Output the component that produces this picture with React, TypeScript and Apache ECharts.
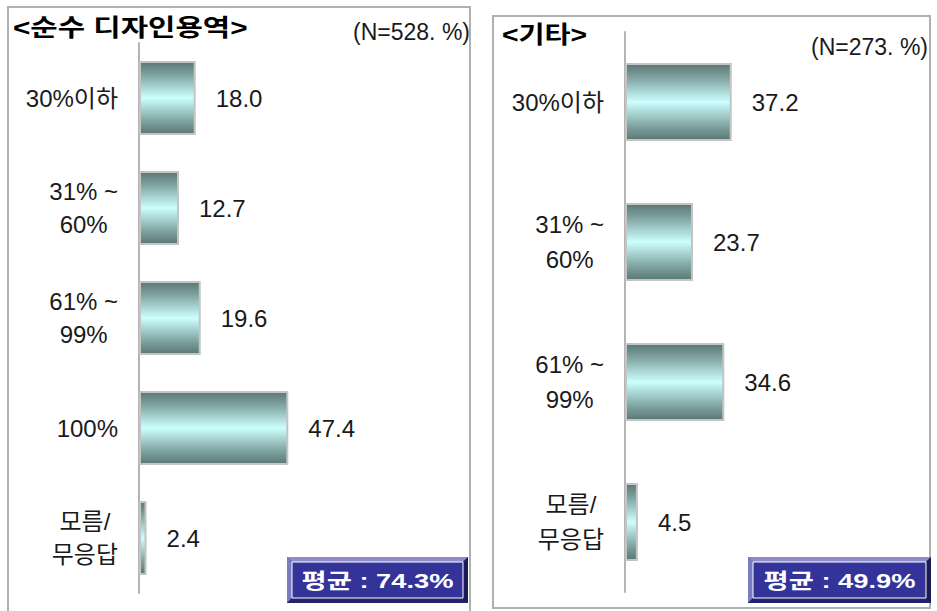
import React, { useEffect, useRef } from "react";
import * as echarts from "echarts";

const leftTitle = "<순수 디자인용역>";
const leftNote = "(N=528. %)";
const leftCategories = ["30%이하", "31% ~\n60%", "61% ~\n99%", "100%", "모름/\n무응답"];
const leftValues = [18.0, 12.7, 19.6, 47.4, 2.4];
const leftAverage = "평균 : 74.3%";

const rightTitle = "<기타>";
const rightNote = "(N=273. %)";
const rightCategories = ["30%이하", "31% ~\n60%", "61% ~\n99%", "모름/\n무응답"];
const rightValues = [37.2, 23.7, 34.6, 4.5];
const rightAverage = "평균 : 49.9%";

const FONT = "'Liberation Sans', 'Noto Sans CJK KR', sans-serif";

const barGradient = new echarts.graphic.LinearGradient(0, 0, 0, 1, [
  { offset: 0, color: "#5a7875" },
  { offset: 0.18, color: "#7fa3a0" },
  { offset: 0.5, color: "#ccffff" },
  { offset: 0.82, color: "#7fa3a0" },
  { offset: 1, color: "#5a7875" },
]);

function avgBox(x0: number, y0: number, x1: number, y1: number, text: string) {
  const b = 5;
  return {
    type: "group",
    children: [
      { type: "rect", shape: { x: x0, y: y0, width: x1 - x0, height: y1 - y0 }, style: { fill: "#333399" } },
      { type: "polygon", shape: { points: [[x0, y0], [x1, y0], [x1 - b, y0 + b], [x0 + b, y0 + b]] }, style: { fill: "#8d8dcc" } },
      { type: "polygon", shape: { points: [[x0, y0], [x0 + b, y0 + b], [x0 + b, y1 - b], [x0, y1]] }, style: { fill: "#7b7bc0" } },
      { type: "polygon", shape: { points: [[x0, y1], [x0 + b, y1 - b], [x1 - b, y1 - b], [x1, y1]] }, style: { fill: "#23236a" } },
      { type: "polygon", shape: { points: [[x1, y0], [x1, y1], [x1 - b, y1 - b], [x1 - b, y0 + b]] }, style: { fill: "#1b1b55" } },
      { type: "rect", shape: { x: x0 + b, y: y0 + b, width: x1 - x0 - 2 * b, height: y1 - y0 - 2 * b }, style: { fill: "#333399", stroke: "#ffffff", lineWidth: 1 } },
      {
        type: "text",
        x: (x0 + x1) / 2,
        y: (y0 + y1) / 2 + 1,
        scaleX: 1.3,
        style: { text, fill: "#ffffff", font: `bold 21px ${FONT}`, textAlign: "center", textVerticalAlign: "middle" },
      },
    ],
  };
}

function catAxis(cats: string[], gridIndex: number, lh: number) {
  return {
    type: "category",
    gridIndex,
    data: cats,
    inverse: true,
    axisTick: { show: false },
    axisLine: { show: true, lineStyle: { color: "#b4b4b4", width: 2 } },
    axisLabel: {
      align: "right",
      margin: 21,
      formatter: (v: string) => `{c|${v}}`,
      rich: { c: { align: "center", fontSize: 24, lineHeight: lh, color: "#1a1a1a", fontFamily: FONT } },
    },
  };
}

function valAxis(gridIndex: number) {
  return { type: "value", gridIndex, min: 0, max: 100, show: false, splitLine: { show: false } };
}

function barSeries(values: number[], idx: number, width: number) {
  return {
    type: "bar",
    xAxisIndex: idx,
    yAxisIndex: idx,
    data: values,
    barWidth: width,
    itemStyle: { color: barGradient, borderColor: "#c4c4c4", borderWidth: 2 },
    label: {
      show: true,
      position: "right",
      distance: 20,
      formatter: (p: any) => Number(p.value).toFixed(1),
      fontSize: 24,
      color: "#1a1a1a",
      fontFamily: FONT,
    },
  };
}

export default function App() {
  const ref = useRef<HTMLDivElement>(null);
  useEffect(() => {
    if (!ref.current) return;
    const chart = echarts.init(ref.current, null, { renderer: "svg" });
    chart.setOption({
      animation: false,
      backgroundColor: "#ffffff",
      grid: [
        { left: 139, top: 43, width: 315, height: 550 },
        { left: 625, top: 32, width: 287, height: 560 },
      ],
      xAxis: [valAxis(0), valAxis(1)],
      yAxis: [catAxis(leftCategories, 0, 33), catAxis(rightCategories, 1, 35)],
      series: [barSeries(leftValues, 0, 74), barSeries(rightValues, 1, 78)],
      graphic: [
        { type: "rect", shape: { x: 8, y: 7, width: 462, height: 620 }, style: { fill: "none", stroke: "#b0b0b0", lineWidth: 2 }, z: -1 },
        { type: "rect", shape: { x: 493, y: 16, width: 437, height: 592 }, style: { fill: "none", stroke: "#b0b0b0", lineWidth: 2 }, z: -1 },
        { type: "text", x: 13, y: 28, scaleX: 1.24, style: { text: leftTitle, fill: "#000", font: `bold 24px ${FONT}`, textAlign: "left", textVerticalAlign: "middle" } },
        { type: "text", x: 502, y: 35, scaleX: 1.18, style: { text: rightTitle, fill: "#000", font: `bold 24px ${FONT}`, textAlign: "left", textVerticalAlign: "middle" } },
        { type: "text", x: 470, y: 32, style: { text: leftNote, fill: "#1a1a1a", font: `23px ${FONT}`, textAlign: "right", textVerticalAlign: "middle" } },
        { type: "text", x: 928, y: 47, style: { text: rightNote, fill: "#1a1a1a", font: `23px ${FONT}`, textAlign: "right", textVerticalAlign: "middle" } },
        avgBox(287, 557, 468, 603, leftAverage),
        avgBox(748, 557, 931, 603, rightAverage),
      ],
    });
    return () => chart.dispose();
  }, []);
  return <div ref={ref} style={{ position: "absolute", left: 0, top: 0, width: 937, height: 611 }} />;
}
